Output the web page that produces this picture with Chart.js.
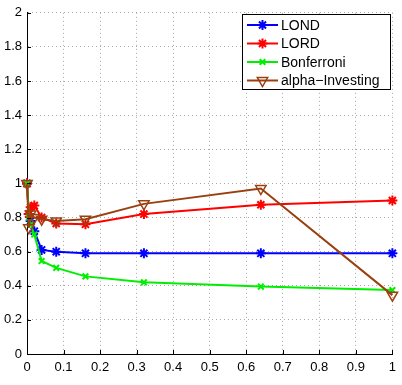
<!DOCTYPE html>
<html>
<head>
<meta charset="utf-8">
<script src="https://cdn.jsdelivr.net/npm/chart.js@4/dist/chart.umd.min.js"></script>
<style>
  html, body { margin: 0; padding: 0; background: #fff; }
  #wrap { width: 402px; height: 385px; }
</style>
</head>
<body>
<div id="wrap"><canvas id="chart" width="402" height="385"></canvas></div>
<script>
// x positions shared by all curves
const xs = [0, 0.005, 0.01, 0.02, 0.04, 0.08, 0.16, 0.32, 0.64, 1];

const lond       = [1.0, 0.82, 0.78, 0.72, 0.61, 0.60, 0.59, 0.59, 0.59, 0.59];
const lord       = [1.0, 0.82, 0.86, 0.87, 0.80, 0.765, 0.76, 0.82, 0.875, 0.90];
const bonferroni = [1.0, 0.80, 0.76, 0.70, 0.545, 0.505, 0.455, 0.42, 0.395, 0.375];
const alphaInv   = [1.0, 0.74, 0.82, 0.80, 0.79, 0.78, 0.79, 0.88, 0.97, 0.345];

const xTicks = [0, 0.1, 0.2, 0.3, 0.4, 0.5, 0.6, 0.7, 0.8, 0.9, 1];
const yTicks = [0, 0.2, 0.4, 0.6, 0.8, 1, 1.2, 1.4, 1.6, 1.8, 2];

const FONT = "'Liberation Sans', Arial, Helvetica, sans-serif";
const BROWN = '#9a4010';

const pts = ys => ys.map((y, i) => ({ x: xs[i], y: y }));

const series = [
    { label: 'LOND', data: lond, color: '#0000ff', style: 'star', radius: 5, bw: 2, rot: 0, order: 4 },
    { label: 'LORD', data: lord, color: '#ff0000', style: 'star', radius: 5, bw: 2, rot: 0, order: 3 },
    { label: 'Bonferroni', data: bonferroni, color: '#00ee00', style: 'crossRot', radius: 4, bw: 2, rot: 0, order: 2 },
    { label: 'alpha\u2212Investing', data: alphaInv, color: BROWN, style: 'triangle', radius: 6, bw: 1.5, rot: 180, order: 1 }
];

// small inward ticks + legend box, matlab style
const decor = {
    id: 'decor',
    afterDraw(chart) {
        const ctx = chart.ctx;
        const xs_ = chart.scales.x, ys_ = chart.scales.y;
        const a = chart.chartArea;
        ctx.save();
        ctx.strokeStyle = '#000';
        ctx.lineWidth = 1;
        ctx.beginPath();
        xTicks.forEach(v => {
            const px = Math.round(xs_.getPixelForValue(v)) + 0.5;
            ctx.moveTo(px, a.bottom); ctx.lineTo(px, a.bottom - 4);
        });
        yTicks.forEach(v => {
            const py = Math.round(ys_.getPixelForValue(v)) + 0.5;
            ctx.moveTo(a.left, py); ctx.lineTo(a.left + 4, py);
        });
        ctx.stroke();

        // legend
        const lx = 242, ly = 14, lw = 148, lh = 75;
        ctx.fillStyle = '#fff';
        ctx.fillRect(lx, ly, lw, lh);
        ctx.strokeStyle = '#000';
        ctx.strokeRect(lx + 0.5, ly + 0.5, lw, lh);
        ctx.font = '14px ' + FONT;
        ctx.textBaseline = 'middle';
        series.forEach((s, i) => {
            const y = ly + 11 + i * 18.5;
            ctx.strokeStyle = s.color;
            ctx.lineWidth = 2;
            ctx.beginPath();
            ctx.moveTo(lx + 5, y); ctx.lineTo(lx + 36, y);
            ctx.stroke();
            ctx.fillStyle = s.style === 'triangle' ? 'rgba(0,0,0,0)' : s.color;
            ctx.lineWidth = s.bw;
            Chart.helpers.drawPoint(ctx, { pointStyle: s.style, rotation: s.rot, radius: s.radius, borderWidth: s.bw }, lx + 20.5, y);
            ctx.fillStyle = '#000';
            ctx.fillText(s.label, lx + 39, y + 1);
        });
        ctx.restore();
    }
};

new Chart(document.getElementById('chart'), {
    type: 'scatter',
    data: {
        datasets: series.map(s => ({
            label: s.label,
            data: pts(s.data),
            showLine: true,
            borderColor: s.color,
            backgroundColor: s.style === 'triangle' ? 'rgba(0,0,0,0)' : s.color,
            borderWidth: 2,
            pointStyle: s.style,
            pointRadius: s.radius,
            pointBorderWidth: s.bw,
            pointRotation: s.rot,
            pointBorderColor: s.color,
            pointBackgroundColor: s.style === 'triangle' ? 'rgba(0,0,0,0)' : s.color,
            order: s.order,
            clip: false
        }))
    },
    options: {
        responsive: false,
        animation: false,
        devicePixelRatio: 1,
        layout: { padding: { top: 9, right: 8, left: 0, bottom: 0 } },
        plugins: { legend: { display: false }, tooltip: { enabled: false } },
        scales: {
            x: {
                type: 'linear', min: 0, max: 1,
                afterBuildTicks: ax => { ax.ticks = xTicks.map(v => ({ value: v })); },
                afterFit: ax => { ax.height = 31; },
                grid: { color: '#a8a8a8', lineWidth: 1, drawTicks: false },
                border: { color: '#000', width: 1, dash: [1, 3] },
                ticks: { color: '#000', font: { family: FONT, size: 13 }, padding: 6, maxRotation: 0,
                         callback: v => String(v) }
            },
            y: {
                type: 'linear', min: 0, max: 2,
                afterBuildTicks: ax => { ax.ticks = yTicks.map(v => ({ value: v })); },
                afterFit: ax => { ax.width = 27; },
                grid: { color: '#a8a8a8', lineWidth: 1, drawTicks: false },
                border: { color: '#000', width: 1, dash: [1, 3] },
                ticks: { color: '#000', font: { family: FONT, size: 13 }, padding: 5,
                         callback: v => String(v) }
            }
        }
    },
    plugins: [decor]
});
</script>
</body>
</html>
